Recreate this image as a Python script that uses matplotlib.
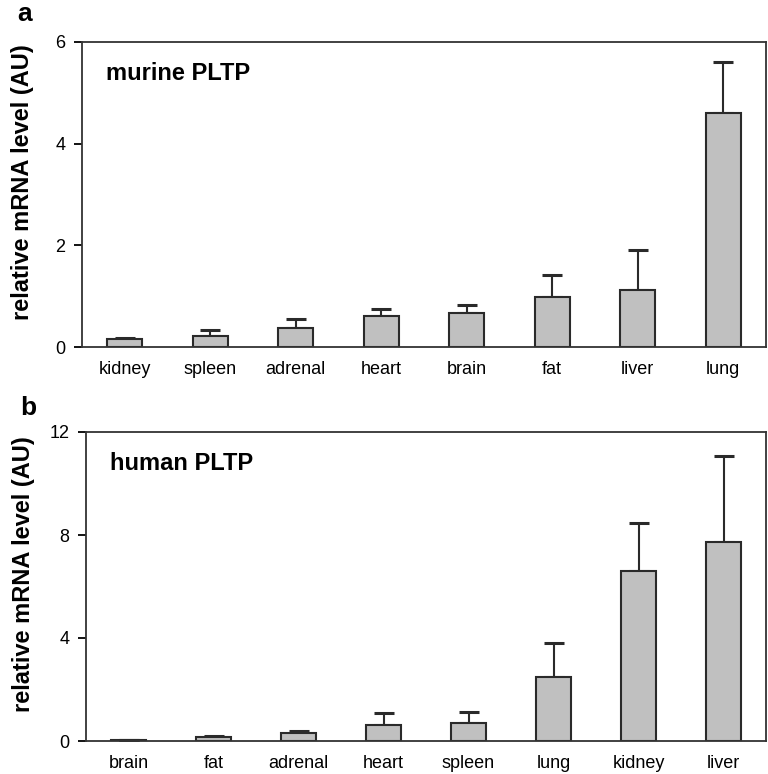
import matplotlib
matplotlib.use("Agg")
import matplotlib.pyplot as plt
import numpy as np

plt.rcParams['font.family'] = ['Liberation Sans', 'DejaVu Sans']

murine_tissues = ["kidney", "spleen", "adrenal", "heart", "brain", "fat", "liver", "lung"]
murine_values = [0.16, 0.21, 0.38, 0.61, 0.66, 0.98, 1.13, 4.60]
murine_err = [0.01, 0.12, 0.18, 0.14, 0.17, 0.44, 0.78, 1.00]

human_tissues = ["brain", "fat", "adrenal", "heart", "spleen", "lung", "kidney", "liver"]
human_values = [0.05, 0.16, 0.31, 0.61, 0.69, 2.50, 6.62, 7.73]
human_err = [0.0, 0.03, 0.09, 0.49, 0.45, 1.32, 1.85, 3.33]

fig = plt.figure(figsize=(7.68, 7.74), dpi=100)
W, H = 768, 774

def make_ax(l, t, r, b):
    return fig.add_axes([l / W, 1 - b / H, (r - l) / W, (b - t) / H])

ax1 = make_ax(82, 42, 766, 347)
ax2 = make_ax(86, 432, 766, 741)

def draw(ax, cats, vals, errs, ymax, yticks, title, label_x):
    x = np.arange(len(cats))
    ax.bar(x, vals, width=0.41, color="#c0c0c0", edgecolor="#2a2a2a", linewidth=1.5, zorder=2)
    ax.errorbar(x, vals, yerr=[np.zeros(len(errs)), errs], fmt="none", ecolor="#2a2a2a",
                elinewidth=1.5, capsize=7, capthick=2.2, zorder=1)
    ax.set_xlim(-0.5, len(cats) - 0.5)
    ax.set_ylim(0, ymax)
    ax.set_xticks(x)
    ax.set_xticklabels(cats, fontsize=13)
    ax.set_yticks(yticks)
    ax.set_yticklabels([str(t) for t in yticks], fontsize=13)
    ax.tick_params(axis="x", length=0, pad=10)
    ax.tick_params(axis="y", direction="out", length=6, width=1.3, pad=6)
    for s in ax.spines.values():
        s.set_color("#333333")
        s.set_linewidth(1.3)
    ax.set_ylabel("relative mRNA level (AU)", fontsize=17, fontweight="bold")
    ax.yaxis.set_label_coords(label_x, 0.54)
    ax.text(0.035, 0.935, title, transform=ax.transAxes, fontsize=17, fontweight="bold",
            va="top", ha="left")

draw(ax1, murine_tissues, murine_values, murine_err, 6, [0, 2, 4, 6], "murine PLTP", -0.07)
draw(ax2, human_tissues, human_values, human_err, 12, [0, 4, 8, 12], "human PLTP", -0.075)

fig.text(25 / W, 1 - 14 / H, "a", fontsize=19, fontweight="bold", va="center", ha="center")
fig.text(28 / W, 1 - 408 / H, "b", fontsize=19, fontweight="bold", va="center", ha="center")

fig.savefig("out.png", dpi=100)
